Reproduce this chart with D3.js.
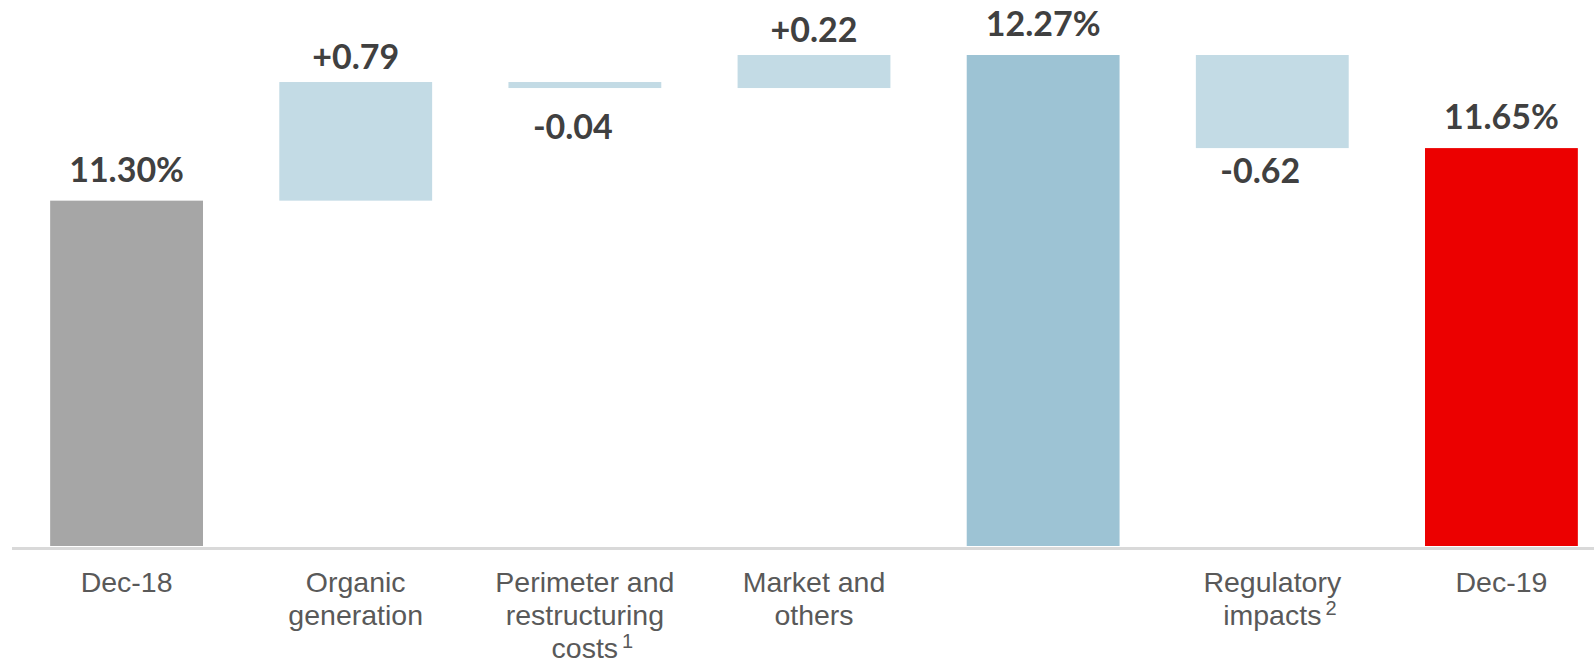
<!DOCTYPE html>
<html>
<head>
<meta charset="utf-8">
<script src="https://cdn.jsdelivr.net/npm/d3@7"></script>
<style>
  html, body { margin: 0; padding: 0; background: #fff; }
  svg { display: block; }
  .val { font-family: Lato, "Open Sans", sans-serif; font-weight: 700; font-size: 34px; fill: #404040; }
  .cat { font-family: "Liberation Sans", Arial, sans-serif; font-size: 28.5px; fill: #595959; }
  .sup { font-family: "Liberation Sans", Arial, sans-serif; font-size: 20px; fill: #595959; }
</style>
</head>
<body>
<div id="chart"></div>
<script>
// waterfall: CET1 Dec-18 -> Dec-19
var categories = [
  ["Dec-18"],
  ["Organic", "generation"],
  ["Perimeter and", "restructuring", "costs"],
  ["Market and", "others"],
  [""],
  ["Regulatory", "impacts"],
  ["Dec-19"]
];
var footnotes = ["", "", "1", "", "", "2", ""];
var kinds = ["total", "delta", "delta", "delta", "subtotal", "delta", "end"];
var values = [11.30, 0.79, -0.04, 0.22, 12.27, -0.62, 11.65];
var labels = ["11.30%", "+0.79", "-0.04", "+0.22", "12.27%", "-0.62", "11.65%"];
var axisMin = 9;

var W = 1594, H = 664;
var colors = { total: "#a6a6a6", delta: "#c3dbe5", subtotal: "#9dc3d4", end: "#ec0000" };

// running totals -> [lo, hi] for each bar
var run = 0;
var bars = values.map(function (v, i) {
  var lo, hi;
  if (kinds[i] === "delta") {
    lo = Math.min(run, run + v); hi = Math.max(run, run + v);
    run += v;
  } else {
    lo = axisMin; hi = v; run = v;
  }
  return { i: i, kind: kinds[i], v: v, lo: lo, hi: hi, label: labels[i] };
});

var x = d3.scaleBand().domain(d3.range(values.length))
  .range([12, 1616]).paddingInner(0.333).paddingOuter(0.1665);
var y = d3.scaleLinear().domain([axisMin, d3.max(bars, function (b) { return b.hi; })]).range([546, 55]);

var svg = d3.select("#chart").append("svg").attr("width", W).attr("height", H);

svg.append("g").selectAll("rect").data(bars).enter().append("rect")
  .attr("x", function (b) { return x(b.i); })
  .attr("width", x.bandwidth())
  .attr("y", function (b) { return y(b.hi); })
  .attr("height", function (b) { return y(b.lo) - y(b.hi); })
  .attr("fill", function (b) { return colors[b.kind]; });

// baseline
svg.append("line")
  .attr("x1", x.range()[0]).attr("x2", W)
  .attr("y1", y(axisMin) + 2.5).attr("y2", y(axisMin) + 2.5)
  .attr("stroke", "#d9d9d9").attr("stroke-width", 3);

// value labels: totals above, deltas above/below
svg.append("g").selectAll("text").data(bars).enter().append("text")
  .attr("class", "val")
  .attr("text-anchor", "middle")
  .attr("x", function (b) {
    var cx = x(b.i) + x.bandwidth() / 2;
    return b.kind === "delta" && b.v < 0 ? cx - 12 : cx;
  })
  .attr("y", function (b) {
    if (b.kind !== "delta") return y(b.hi) - 19;
    if (b.v > 0) return y(b.hi) - 13;
    return Math.max(y(b.lo) + 35, y(b.hi) + 57);
  })
  .text(function (b) { return b.label; });

// category labels (multi-line, footnote marker hangs off the last line)
var lineH = 33;
var catG = svg.append("g").selectAll("g").data(categories).enter().append("g")
  .attr("transform", function (d, i) { return "translate(" + (x(i) + x.bandwidth() / 2) + ",0)"; });
catG.each(function (lines, i) {
  var g = d3.select(this);
  var last = null;
  lines.forEach(function (t, j) {
    last = g.append("text").attr("class", "cat").attr("text-anchor", "middle")
      .attr("x", 0).attr("y", 592 + j * lineH).text(t);
  });
  if (footnotes[i]) {
    var len = last.node().getComputedTextLength();
    g.append("text").attr("class", "sup")
      .attr("x", len / 2 + 4).attr("y", 592 + (lines.length - 1) * lineH - 10)
      .text(footnotes[i]);
  }
});
</script>
</body>
</html>
